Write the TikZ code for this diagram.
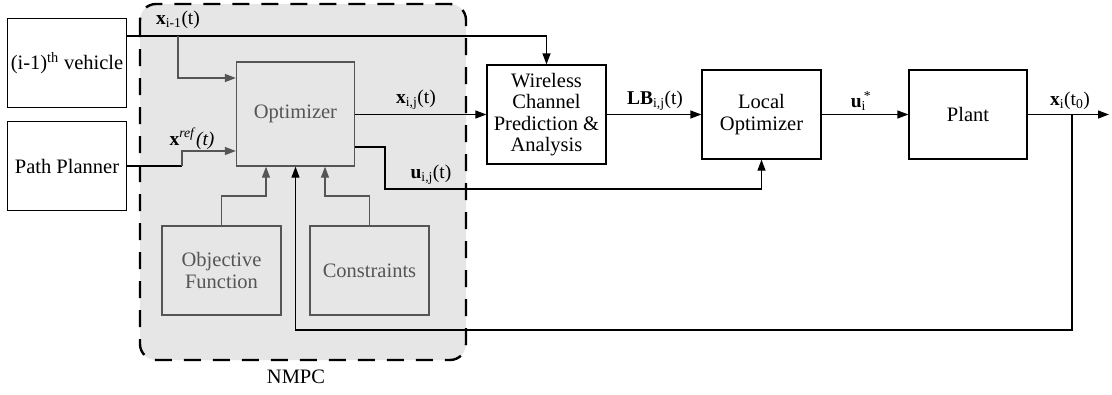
\documentclass[tikz,border=0pt]{standalone}
\usepackage{fontspec}
\setmainfont{Liberation Serif}
\usetikzlibrary{arrows.meta,positioning,calc}

\definecolor{panel}{HTML}{E6E6E6}
\definecolor{inner}{HTML}{555555}

\tikzset{
  boxtext/.style={font=\fontsize{20.5}{21.5}\selectfont, align=center},
  block/.style={draw=black, line width=1.3pt, fill=white, rectangle,
    minimum width=119pt, minimum height=89pt, inner sep=0pt, boxtext},
  subblock/.style={draw=inner, line width=1.3pt, rectangle, text=inner,
    minimum width=119pt, minimum height=89pt, inner sep=0pt, boxtext},
  tip/.style={-{Triangle[length=11pt,width=8pt]}},
  conn/.style={draw=black, line width=1.3pt, tip},
  plain/.style={draw=black, line width=1.3pt},
  gconn/.style={draw=inner, line width=1.3pt, tip},
  sig/.style={font=\fontsize{19.5}{21}\selectfont, inner sep=0pt},
}

\begin{document}
\begin{tikzpicture}[x=1pt, y=-1pt]
\useasboundingbox (0,0) rectangle (1112,394);

% NMPC panel
\draw[fill=panel, draw=black, line width=2.4pt, dash pattern=on 17pt off 12pt,
      rounded corners=16pt] (140,4) rectangle (466,360);
\node[sig, font=\fontsize{20.5}{22}\selectfont] (nmpclabel) at (296,377) {NMPC};

% blocks
\node[block] (veh) at (67,63) {(i-1)\textsuperscript{th} vehicle};
\node[block] (pp) at (67,166) {Path Planner};
\node[subblock, minimum width=118pt, minimum height=104pt] (opt) at (295.5,114) {Optimizer};
\node[subblock] (obj) at (221.5,270.5) {Objective\\Function};
\node[subblock] (con) at (369.5,270.5) {Constraints};
\node[block, minimum height=99pt] (wir) at (546.5,114.5) {Wireless\\Channel\\Prediction \&\\Analysis};
\node[block] (loc) at (761.5,114.5) {Local\\Optimizer};
\node[block, minimum width=118pt] (plant) at (968,114.5) {Plant};

% routing points
\coordinate (vout) at (126,36);
\coordinate (br) at (178,36);
\coordinate (brin) at (237,78);
\coordinate (ppk) at (182,151);
\coordinate (uout) at (355,147);
\coordinate (uk) at (385,189);
\coordinate (ok) at (266,196);
\coordinate (ck) at (325,196);
\coordinate (out) at (1109,114.5);
\coordinate (fb) at (1072,330);

% connectors
\draw[conn] (veh.east |- vout) -| (wir.north);
\draw[gconn] (br) |- (opt.west |- brin);
\draw[plain] (pp.east) -- (pp.east -| ppk);
\draw[gconn] (pp.east -| ppk) -- (ppk) -- (opt.west |- ppk);
\draw[conn] (opt.east |- wir.west) -- (wir.west);
\draw[conn] (opt.east |- uout) -| (uk) -| (loc.south);
\draw[gconn] (obj.north) |- (ok) -- (ok |- opt.south);
\draw[gconn] (con.north) |- (ck) -- (ck |- opt.south);
\draw[conn] (wir.east) -- (loc.west);
\draw[conn] (loc.east) -- (plant.west);
\draw[conn] (plant.east) -- (out);
\draw[conn] (plant.east -| fb) -- (fb) -| (opt.south);

% signal labels
\node[sig] (lxprev) at (178,20) {\textbf{x}\textsubscript{i-1}(t)};
\node[sig] (lxref) at (192,139) {\textbf{x}\textsuperscript{\textit{ref}}\textit{(t)}};
\node[sig] (lxij) at (416,100) {\textbf{x}\textsubscript{i,j}(t)};
\node[sig] (luij) at (431,175) {\textbf{u}\textsubscript{i,j}(t)};
\node[sig] (llb) at (655,101) {\textbf{LB}\textsubscript{i,j}(t)};
\node[sig] (lu) at (861,101) {\textbf{u}\rlap{\textsubscript{i}}\textsuperscript{\,*}};
\node[sig] (lx) at (1070,101) {\textbf{x}\textsubscript{i}(t\textsubscript{0})};
\end{tikzpicture}
\end{document}
